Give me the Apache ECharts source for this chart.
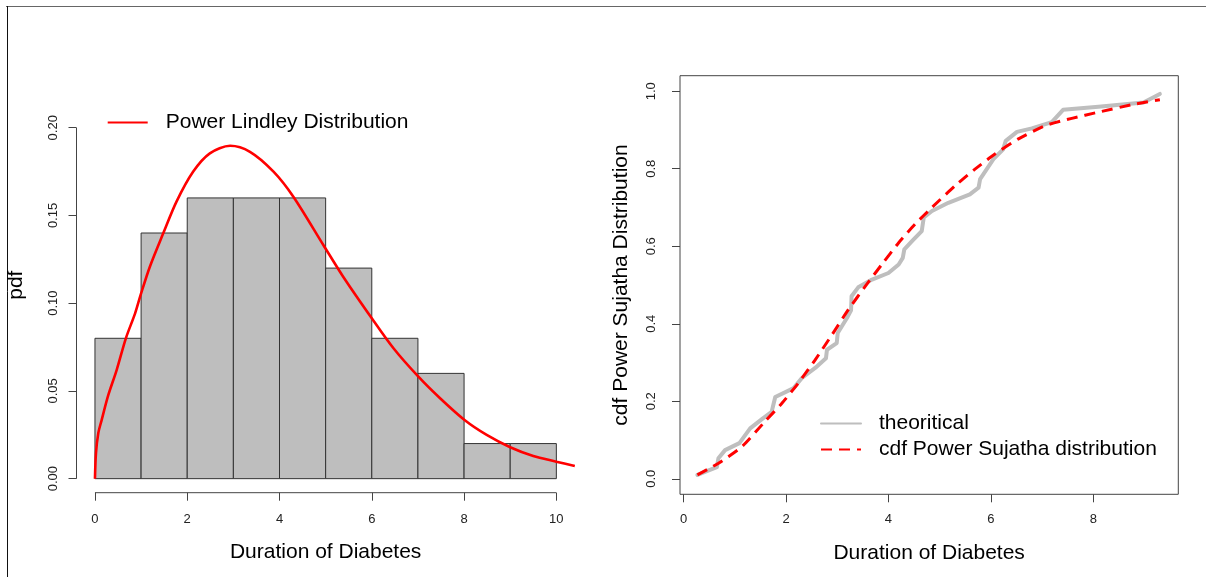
<!DOCTYPE html>
<html>
<head>
<meta charset="utf-8">
<title>Duration of Diabetes</title>
<script src="https://cdn.jsdelivr.net/npm/echarts@6/dist/echarts.min.js"></script>
<style>
    html, body { margin: 0; padding: 0; background: #fff; }
    #chart { width: 1206px; height: 577px; }
</style>
</head>
<body>
<div id="chart"></div>
<script>
// left panel: histogram (density) + fitted Power Lindley pdf
const binEdges = [0, 1, 2, 3, 4, 5, 6, 7, 8, 9, 10];
const density = [0.08, 0.14, 0.16, 0.16, 0.16, 0.12, 0.08, 0.06, 0.02, 0.02];
const pdfX = [0, 0.022, 0.072, 0.145, 0.29, 0.47, 0.67, 0.87, 0.99, 1.19, 1.48, 1.77, 2.13, 2.49, 2.93, 3.36, 3.87, 4.30, 4.95, 5.38, 6.0, 6.47, 7.01, 7.48, 8.01, 8.49, 9.0, 9.5, 10.0, 10.4];
const pdfY = [0, 0.0145, 0.0259, 0.0334, 0.0477, 0.0619, 0.080, 0.0942, 0.1047, 0.1208, 0.1398, 0.158, 0.175, 0.1854, 0.1897, 0.1863, 0.175, 0.1607, 0.1332, 0.1151, 0.0914, 0.0743, 0.0581, 0.0458, 0.0334, 0.0249, 0.0179, 0.0129, 0.0097, 0.0072];
const leftXTicks = [0, 2, 4, 6, 8, 10];
const leftYTicks = [0, 0.05, 0.10, 0.15, 0.20];

// right panel: empirical cdf ("theoritical") + fitted Power Sujatha cdf
const ecdfX = [0.27, 0.65, 0.68, 0.81, 1.09, 1.30, 1.53, 1.72, 1.79, 2.15, 2.31, 2.57, 2.78, 2.80, 2.99, 3.01, 3.19, 3.27, 3.28, 3.41, 3.68, 4.0, 4.20, 4.28, 4.31, 4.46, 4.65, 4.69, 4.85, 5.17, 5.59, 5.76, 5.79, 6.05, 6.24, 6.29, 6.51, 6.80, 7.19, 7.41, 8.10, 8.98, 9.30];
const ecdfY = [0.010, 0.030, 0.053, 0.074, 0.092, 0.130, 0.154, 0.173, 0.211, 0.234, 0.260, 0.286, 0.311, 0.333, 0.350, 0.376, 0.415, 0.435, 0.471, 0.494, 0.514, 0.531, 0.553, 0.570, 0.592, 0.613, 0.639, 0.674, 0.691, 0.712, 0.734, 0.751, 0.773, 0.825, 0.850, 0.872, 0.895, 0.904, 0.920, 0.952, 0.960, 0.971, 0.993];
const cdfX = [0.27, 0.68, 1.14, 1.59, 1.92, 2.24, 2.57, 2.90, 3.22, 3.55, 3.87, 4.20, 4.52, 4.85, 5.30, 5.69, 6.08, 6.54, 7.06, 7.58, 8.10, 8.75, 9.30];
const cdfY = [0.010, 0.040, 0.083, 0.148, 0.195, 0.247, 0.307, 0.372, 0.437, 0.497, 0.553, 0.609, 0.657, 0.700, 0.756, 0.799, 0.838, 0.877, 0.911, 0.930, 0.946, 0.965, 0.978];
const rightXTicks = [0, 2, 4, 6, 8];
const rightYTicks = [0, 0.2, 0.4, 0.6, 0.8, 1.0];

let font = 'Liberation Sans, Arial, sans-serif';
let axisCol = '#444';
let labelCol = '#222';

let zip = function (xs, ys) {
    return xs.map(function (x, i) {
        return [x, ys[i]];
    });
};

let histData = density.map(function (d, i) {
    return [binEdges[i], binEdges[i + 1], d];
});

let leftXMin = -0.4, leftXMax = 10.4, leftYMin = -0.008, leftYMax = 0.208;

function makeAxis(gridIndex, min, max, ticks, fmt, opts, labelOpts) {
    return Object.assign({
        type: 'value',
        gridIndex: gridIndex,
        min: min,
        max: max,
        splitLine: {show: false},
        axisLine: {show: false, onZero: false},
        axisTick: {
            show: true,
            customValues: ticks,
            length: 8,
            lineStyle: {color: axisCol, width: 1}
        },
        axisLabel: Object.assign({
            customValues: ticks,
            fontSize: 13,
            color: labelCol,
            fontFamily: font,
            formatter: fmt
        }, labelOpts),
        nameLocation: 'middle',
        nameTextStyle: {fontSize: 21, color: '#000', fontFamily: font}
    }, opts);
}

let chart = echarts.init(document.getElementById('chart'));

let legendText = {fontSize: 21, lineHeight: 21, color: '#000', fontFamily: font, padding: [0, 0, 0, 13]};

let option = {
    animation: false,
    backgroundColor: '#fff',
    graphic: [
        {type: 'line', shape: {x1: 6, y1: 6.5, x2: 1206, y2: 6.5}, style: {stroke: '#666', lineWidth: 1}},
        {type: 'line', shape: {x1: 7.5, y1: 6, x2: 7.5, y2: 577}, style: {stroke: '#111', lineWidth: 1}}
    ],
    grid: [
        {left: 76.5, top: 113.7, width: 498.3, height: 379},
        {left: 680, top: 75.7, width: 498.3, height: 418.6, show: true, borderColor: axisCol, borderWidth: 1, backgroundColor: 'transparent'}
    ],
    xAxis: [
        makeAxis(0, leftXMin, leftXMax, leftXTicks, function (v) { return String(v); }, {
            name: 'Duration of Diabetes', nameGap: 49
        }, {margin: 20}),
        makeAxis(1, -0.07, 9.66, rightXTicks, function (v) { return String(v); }, {
            name: 'Duration of Diabetes', nameGap: 48
        }, {margin: 19})
    ],
    yAxis: [
        makeAxis(0, leftYMin, leftYMax, leftYTicks, function (v) { return v.toFixed(2); }, {
            name: 'pdf', nameGap: 50,
            nameTextStyle: {fontSize: 21, color: '#000', fontFamily: font, padding: [0, 0, 0, 36]}
        }, {rotate: 90, margin: 17}),
        makeAxis(1, -0.04, 1.04, rightYTicks, function (v) { return v.toFixed(1); }, {
            name: 'cdf Power Sujatha Distribution', nameGap: 48
        }, {rotate: 90, margin: 22})
    ],
    legend: [
        {
            data: ['Power Lindley Distribution'],
            left: 106.7, top: 112, padding: 0,
            itemWidth: 40, itemHeight: 14,
            itemStyle: {opacity: 0},
            textStyle: legendText
        },
        {
            data: ['theoritical', 'cdf Power Sujatha distribution'],
            orient: 'vertical',
            left: 820, top: 413, padding: 0,
            itemWidth: 40, itemHeight: 14, itemGap: 5,
            itemStyle: {opacity: 0},
            textStyle: legendText
        }
    ],
    series: [
        {
            type: 'custom',
            xAxisIndex: 0, yAxisIndex: 0,
            data: histData,
            encode: {x: [0, 1], y: 2},
            renderItem: function (params, api) {
                let p0 = api.coord([api.value(0), api.value(2)]);
                let p1 = api.coord([api.value(1), 0]);
                return {
                    type: 'rect',
                    shape: {x: p0[0], y: p0[1], width: p1[0] - p0[0], height: p1[1] - p0[1]},
                    style: {fill: '#BEBEBE', stroke: '#333', lineWidth: 1}
                };
            }
        },
        // R style axis lines, only spanning the tick range
        {
            type: 'line', xAxisIndex: 0, yAxisIndex: 0, silent: true, clip: false, symbol: 'none',
            data: [[leftXTicks[0], leftYMin], [leftXTicks[leftXTicks.length - 1], leftYMin]],
            lineStyle: {color: axisCol, width: 1}
        },
        {
            type: 'line', xAxisIndex: 0, yAxisIndex: 0, silent: true, clip: false, symbol: 'none',
            data: [[leftXMin, leftYTicks[0]], [leftXMin, leftYTicks[leftYTicks.length - 1]]],
            lineStyle: {color: axisCol, width: 1}
        },
        {
            name: 'Power Lindley Distribution',
            type: 'line', xAxisIndex: 0, yAxisIndex: 0,
            data: zip(pdfX, pdfY),
            symbol: 'none', smooth: 0.3,
            color: '#FF0000',
            lineStyle: {color: '#FF0000', width: 2.6}
        },
        {
            name: 'theoritical',
            type: 'line', xAxisIndex: 1, yAxisIndex: 1,
            data: zip(ecdfX, ecdfY),
            symbol: 'none',
            color: '#BEBEBE',
            lineStyle: {color: '#BEBEBE', width: 4, join: 'round', cap: 'round'}
        },
        {
            name: 'cdf Power Sujatha distribution',
            type: 'line', xAxisIndex: 1, yAxisIndex: 1,
            data: zip(cdfX, cdfY),
            symbol: 'none', smooth: 0.2,
            color: '#FF0000',
            lineStyle: {color: '#FF0000', width: 3, type: [11, 7]}
        }
    ]
};

chart.setOption(option);
</script>
</body>
</html>
